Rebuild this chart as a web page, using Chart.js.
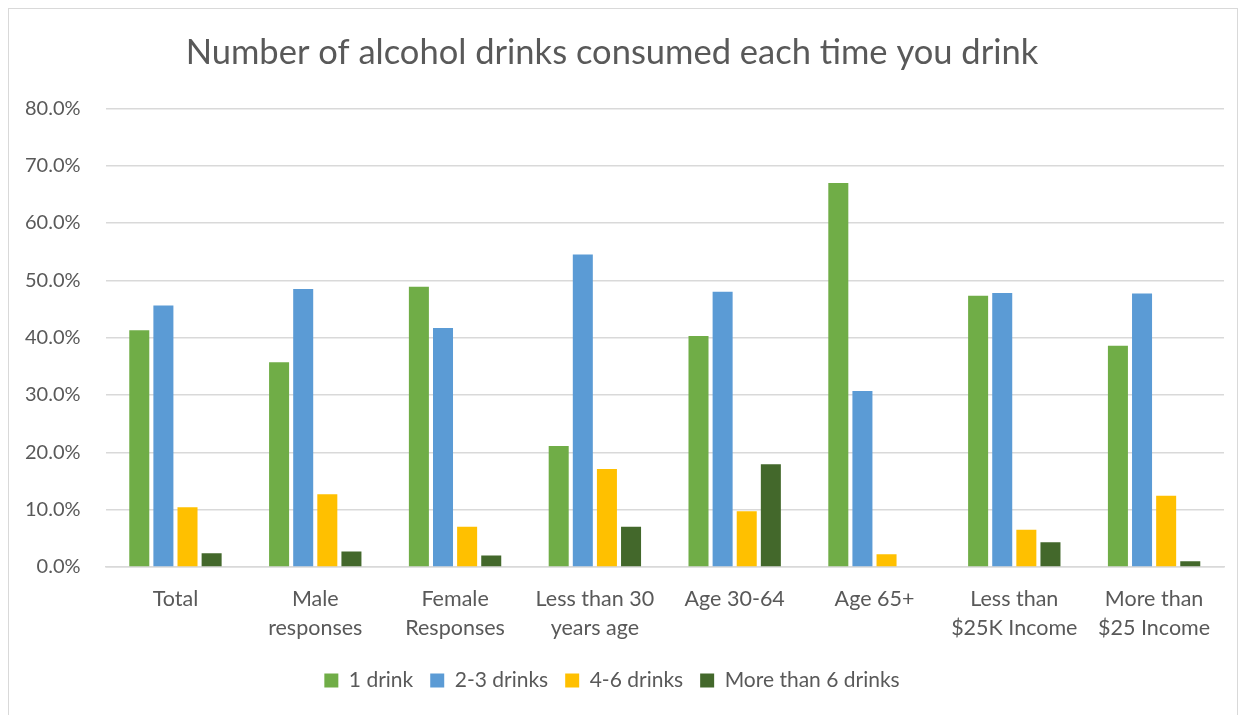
<!DOCTYPE html>
<html>
<head>
<meta charset="utf-8">
<script src="https://cdn.jsdelivr.net/npm/chart.js@4.4.0/dist/chart.umd.min.js"></script>
<style>
  html, body { margin: 0; padding: 0; background: #fff; }
  #box {
    position: absolute; left: 8px; top: 8px;
    width: 1230px; height: 720px;
    border: 1px solid #d9d9d9; box-sizing: border-box;
  }
  #wrap { position: absolute; left: 0; top: 0; width: 1246px; height: 715px; }
</style>
</head>
<body>
<div id="box"></div>
<div id="wrap"><canvas id="grafico"></canvas></div>
<script>
const categorias = [
  "Total",
  ["Male", "responses"],
  ["Female", "Responses"],
  ["Less than 30", "years age"],
  "Age 30-64",
  "Age 65+",
  ["Less than", "$25K Income"],
  ["More than", "$25 Income"],
];

const umDrink = [41.3, 35.7, 48.9, 21.1, 40.3, 67.0, 47.3, 38.6];
const doisTresDrinks = [45.6, 48.5, 41.7, 54.5, 48.0, 30.7, 47.8, 47.7];
const quatroSeisDrinks = [10.4, 12.7, 7.0, 17.1, 9.7, 2.2, 6.5, 12.4];
const maisDeSeis = [2.4, 2.7, 2.0, 7.0, 17.9, 0, 4.3, 1.0];

const fonte = "Lato, 'Open Sans', sans-serif";
const cinza = "#595959";

const grafico = document.getElementById("grafico");

const graficoBebidas = new Chart(grafico, {
  type: "bar",
  data: {
    labels: categorias,
    datasets: [
      { label: "1 drink", data: umDrink, backgroundColor: "#70ad47" },
      { label: "2-3 drinks", data: doisTresDrinks, backgroundColor: "#5b9bd5" },
      { label: "4-6 drinks", data: quatroSeisDrinks, backgroundColor: "#ffc000" },
      { label: "More than 6 drinks", data: maisDeSeis, backgroundColor: "#43682b" },
    ],
  },
  options: {
    responsive: true,
    maintainAspectRatio: false,
    animation: false,
    datasets: {
      bar: { categoryPercentage: 0.69, barPercentage: 0.83 },
    },
    layout: { padding: { left: 0, right: 22, top: 10, bottom: 14 } },
    plugins: {
      title: {
        display: true,
        text: "Number of alcohol drinks consumed each time you drink",
        color: cinza,
        font: { family: fonte, size: 34.5, weight: "normal" },
        padding: { top: 22, bottom: 35 },
      },
      legend: {
        position: "bottom",
        labels: {
          color: cinza,
          font: { family: fonte, size: 21 },
          boxWidth: 14,
          boxHeight: 14,
          padding: 17,
        },
      },
      tooltip: { enabled: false },
    },
    scales: {
      x: {
        grid: { display: false },
        border: { color: "#d9d9d9", width: 1.5 },
        ticks: {
          color: cinza,
          font: { family: fonte, size: 21.5, lineHeight: 1.35 },
          maxRotation: 0,
          padding: 10,
        },
      },
      y: {
        min: 0,
        max: 80,
        ticks: {
          stepSize: 10,
          color: cinza,
          font: { family: fonte, size: 20 },
          padding: 25,
          callback: (v) => v.toFixed(1) + "%",
        },
        grid: { color: "#d9d9d9", lineWidth: 1.5, drawTicks: false },
        border: { display: false },
      },
    },
  },
});
</script>
</body>
</html>
